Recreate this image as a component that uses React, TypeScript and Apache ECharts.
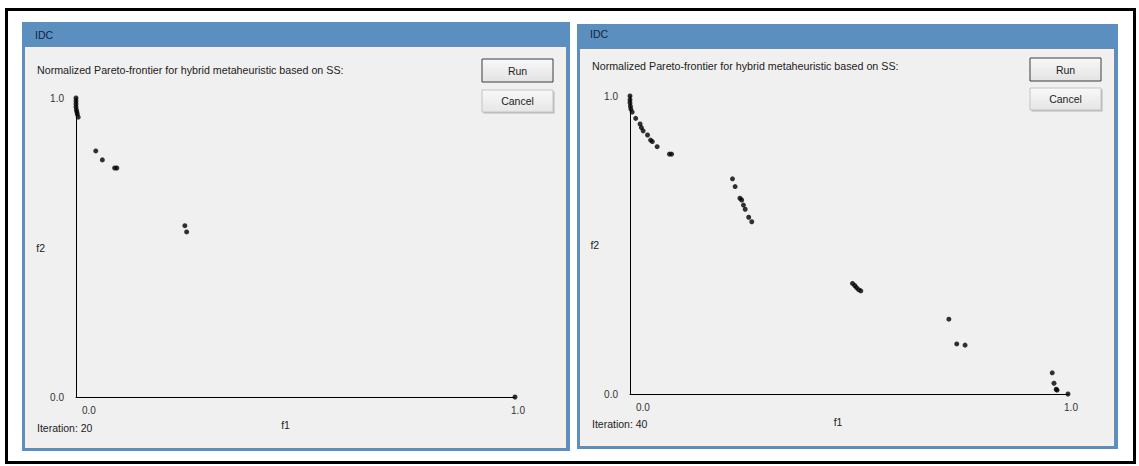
import React, { useEffect, useRef } from "react";
import * as echarts from "echarts";

const leftF1 = [0, 0, 0, 0, 0.001, 0.002, 0.003, 0.005, 0.045, 0.06, 0.088, 0.093, 0.248, 0.252, 1.0];
const leftF2 = [1.0, 0.99, 0.98, 0.97, 0.96, 0.953, 0.946, 0.936, 0.823, 0.793, 0.766, 0.766, 0.573, 0.552, 0.0];

const rightF1 = [0, 0, 0, 0.001, 0.002, 0.005, 0.013, 0.023, 0.026, 0.03, 0.04, 0.047, 0.051, 0.062, 0.09, 0.095, 0.234, 0.24, 0.251, 0.255, 0.259, 0.263, 0.271, 0.278, 0.508, 0.513, 0.517, 0.522, 0.527, 0.728, 0.746, 0.765, 0.964, 0.968, 0.973, 0.975, 1.0];
const rightF2 = [1.0, 0.987, 0.977, 0.966, 0.956, 0.946, 0.925, 0.906, 0.894, 0.883, 0.869, 0.852, 0.847, 0.83, 0.805, 0.805, 0.722, 0.696, 0.657, 0.651, 0.634, 0.62, 0.593, 0.578, 0.371, 0.364, 0.357, 0.35, 0.346, 0.251, 0.168, 0.164, 0.071, 0.036, 0.016, 0.013, 0.0];

const axisTicks = [0, 1];
const windowTitle = "IDC";
const subtitle = "Normalized Pareto-frontier for hybrid metaheuristic based on SS:";
const iterations = ["Iteration: 20", "Iteration: 40"];
const xName = "f1";
const yName = "f2";

const FONT = "Liberation Sans";
const BLUE = "#5b8fc0";

function zip(a: number[], b: number[]) {
  return a.map((v, i) => [v, b[i]]);
}

function windowChrome(x: number, y: number, w: number, h: number, titleY: number, subY: number, runY: number, cancelY: number, iterText: string, iterY: number) {
  const btnX = x + (w - 88);
  return [
    { type: "rect", z: -5, shape: { x, y, width: w, height: h }, style: { fill: BLUE } },
    { type: "rect", z: -4, shape: { x: x + 4, y: y + 26, width: w - 9, height: h - 30 }, style: { fill: "#f0f0f0", stroke: "#fbeee4", lineWidth: 2 } },
    { type: "text", z: 1, x: x + 13, y: titleY, style: { text: windowTitle, fill: "#14243a", font: `10.5px '${FONT}'`, textVerticalAlign: "middle" } },
    { type: "text", z: 1, x: x + 15, y: subY, style: { text: subtitle, fill: "#222", font: `10.7px '${FONT}'`, textVerticalAlign: "middle" } },
    { type: "rect", z: 1, shape: { x: btnX, y: runY, width: 71, height: 23 }, style: { fill: new echarts.graphic.LinearGradient(0, 0, 0, 1, [{ offset: 0, color: "#f8f8f8" }, { offset: 1, color: "#e3e3e3" }]), stroke: "#3c3c3c", lineWidth: 1 } },
    { type: "text", z: 2, x: btnX + 35.5, y: runY + 11.5, style: { text: "Run", fill: "#222", font: `10.5px '${FONT}'`, textAlign: "center", textVerticalAlign: "middle" } },
    { type: "rect", z: 1, shape: { x: btnX + 1.5, y: cancelY + 1.5, width: 71, height: 22 }, style: { fill: "#b8b8b8" } },
    { type: "rect", z: 1, shape: { x: btnX, y: cancelY, width: 71, height: 22 }, style: { fill: new echarts.graphic.LinearGradient(0, 0, 0, 1, [{ offset: 0, color: "#f8f8f8" }, { offset: 1, color: "#e6e6e6" }]), stroke: "#c4c4c4", lineWidth: 1 } },
    { type: "text", z: 2, x: btnX + 35.5, y: cancelY + 11, style: { text: "Cancel", fill: "#222", font: `10.5px '${FONT}'`, textAlign: "center", textVerticalAlign: "middle" } },
    { type: "text", z: 1, x: x + 15, y: iterY, style: { text: iterText, fill: "#222", font: `10.5px '${FONT}'`, textVerticalAlign: "middle" } },
  ];
}

function xAxisOpt(gridIndex: number, nameGap: number, padRight: number) {
  return {
    type: "value",
    gridIndex,
    min: axisTicks[0],
    max: axisTicks[1],
    interval: 1,
    name: xName,
    nameLocation: "middle",
    nameGap,
    nameTextStyle: { color: "#222", fontSize: 10.5, fontFamily: FONT, padding: [0, padRight, 0, 0] },
    axisLine: { show: true, lineStyle: { color: "#000", width: 1 } },
    axisTick: { show: false },
    splitLine: { show: false },
    axisLabel: { formatter: (v: number) => v.toFixed(1), color: "#333", fontSize: 10, fontFamily: FONT, margin: 8, alignMinLabel: "left", padding: [0, 0, 0, 6] },
  };
}

function yAxisOpt(gridIndex: number, nameGap: number) {
  return {
    type: "value",
    gridIndex,
    min: axisTicks[0],
    max: axisTicks[1],
    interval: 1,
    name: yName,
    nameLocation: "middle",
    nameRotate: 0,
    nameGap,
    nameTextStyle: { color: "#222", fontSize: 10.5, fontFamily: FONT },
    axisLine: { show: true, lineStyle: { color: "#000", width: 1 } },
    axisTick: { show: false },
    splitLine: { show: false },
    axisLabel: { formatter: (v: number) => v.toFixed(1), color: "#333", fontSize: 10, fontFamily: FONT, margin: 12 },
  };
}

export default function App() {
  const ref = useRef<HTMLDivElement>(null);
  useEffect(() => {
    if (!ref.current) return;
    const chart = echarts.init(ref.current, undefined, { renderer: "svg" });
    chart.setOption({
      animation: false,
      backgroundColor: "#ffffff",
      graphic: {
        elements: [
          ...windowChrome(22, 22, 548, 429, 35, 70, 59, 90, iterations[0], 428),
          ...windowChrome(577, 24, 541, 425, 34, 66, 58, 88, iterations[1], 424),
          { type: "rect", z: 3, shape: { x: 6.5, y: 9.5, width: 1128, height: 453 }, style: { fill: "none", stroke: "#000", lineWidth: 3 } },
        ],
      },
      grid: [
        { left: 76, top: 98, width: 439, height: 299 },
        { left: 630, top: 96, width: 438, height: 298 },
      ],
      xAxis: [xAxisOpt(0, 22, 20), xAxisOpt(1, 21, 22)],
      yAxis: [yAxisOpt(0, 31), yAxisOpt(1, 29)],
      series: [
        { type: "scatter", xAxisIndex: 0, yAxisIndex: 0, data: zip(leftF1, leftF2), symbol: "circle", symbolSize: 5, itemStyle: { color: "#000" }, clip: false },
        { type: "scatter", xAxisIndex: 1, yAxisIndex: 1, data: zip(rightF1, rightF2), symbol: "circle", symbolSize: 5, itemStyle: { color: "#000" }, clip: false },
      ],
    });
    return () => chart.dispose();
  }, []);
  return <div ref={ref} style={{ position: "fixed", left: 0, top: 0, width: 1139, height: 466 }} />;
}
